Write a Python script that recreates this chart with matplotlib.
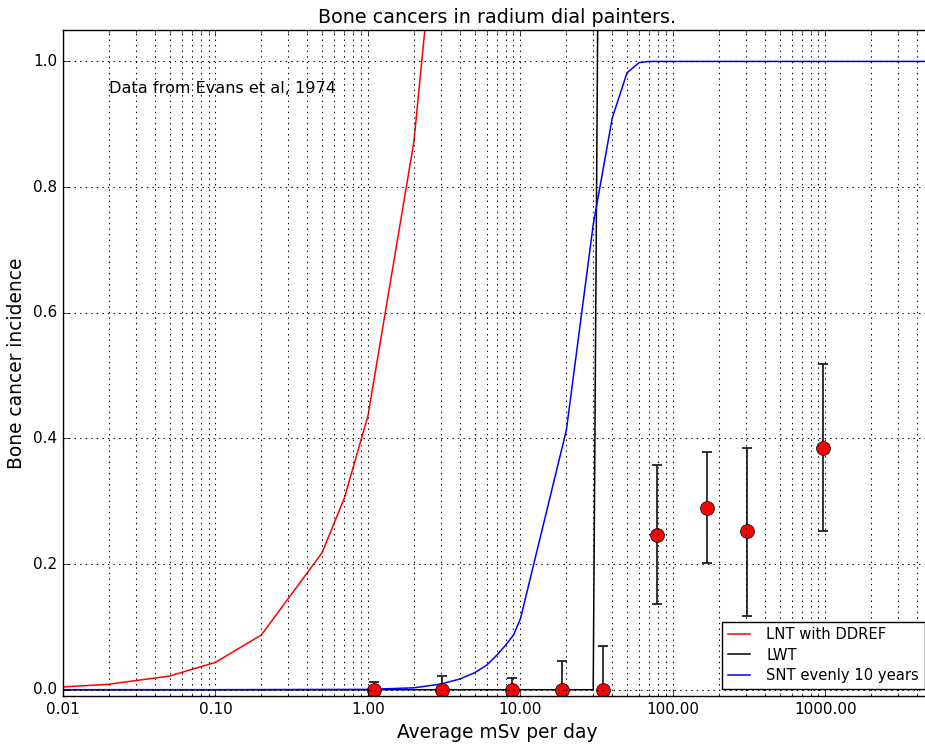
import matplotlib
matplotlib.use("Agg")
import matplotlib.pyplot as plt
from matplotlib.ticker import FormatStrFormatter, LogLocator

plt.style.use("classic")
plt.rcParams["figure.facecolor"] = "white"
plt.rcParams["savefig.facecolor"] = "white"
plt.rcParams["font.family"] = ["DejaVu Sans"]

# --- data ---
obs_dose = [1.09, 3.06, 8.75, 18.6, 34.9, 78.4, 167.0, 306.0, 960.0]
obs_incidence = [0.0, 0.0, 0.0, 0.0, 0.0, 0.246, 0.290, 0.252, 0.385]
obs_err_low = [0.0, 0.0, 0.0, 0.0, 0.0, 0.110, 0.088, 0.134, 0.133]
obs_err_high = [0.012, 0.022, 0.018, 0.046, 0.069, 0.111, 0.088, 0.133, 0.134]

lnt_dose = [0.01, 0.02, 0.05, 0.1, 0.2, 0.5, 0.7, 1.0, 2.0, 3.0, 5.0, 7.0, 10.0, 20.0]
lnt_incidence = [0.0044, 0.0087, 0.0218, 0.0436, 0.0872, 0.218, 0.305, 0.436, 0.872,
                 1.308, 2.18, 3.05, 4.36, 8.72]

lwt_dose = [0.01, 30.0, 40.0]
lwt_incidence = [0.0, 0.0, 4.5]

snt_dose = [0.01, 0.1, 1.0, 2.0, 3.0, 4.0, 5.0, 6.0, 7.0, 8.0, 9.0, 10.0, 20.0, 30.0,
            40.0, 50.0, 60.0, 70.0, 100.0, 1000.0, 5000.0]
snt_incidence = [0.0, 0.0, 0.0005, 0.003, 0.009, 0.017, 0.027, 0.039, 0.055, 0.071,
                 0.087, 0.113, 0.413, 0.74, 0.91, 0.982, 0.998, 1.0, 1.0, 1.0, 1.0]

x_ticks = [0.01, 0.1, 1, 10, 100, 1000]
y_ticks = [0.0, 0.2, 0.4, 0.6, 0.8, 1.0]

fig = plt.figure(figsize=(9.25, 7.45), dpi=100)
ax = fig.add_axes([63 / 925, 49 / 745, 869 / 925, 666 / 745])

ax.errorbar(obs_dose, obs_incidence, yerr=[obs_err_low, obs_err_high], fmt="o",
            mfc="red", mec="black", ms=10, ecolor="#222222", elinewidth=1.3,
            capsize=3.5, capthick=1.3)
ax.plot(lnt_dose, lnt_incidence, color="red", lw=1.1, label="LNT with DDREF")
ax.plot(lwt_dose, lwt_incidence, color="black", lw=1.1, label="LWT")
ax.plot(snt_dose, snt_incidence, color="blue", lw=1.1, label="SNT evenly 10 years")

ax.set_xscale("log")
ax.set_xlim(0.01, 5000)
ax.set_ylim(-0.01, 1.05)
ax.set_xticks(x_ticks)
ax.set_yticks(y_ticks)
ax.xaxis.set_major_formatter(FormatStrFormatter("%.2f"))
ax.yaxis.set_major_formatter(FormatStrFormatter("%.1f"))
ax.xaxis.set_minor_locator(LogLocator(base=10, subs=range(2, 10), numticks=20))
ax.xaxis.set_minor_formatter(plt.NullFormatter())
ax.tick_params(labelsize=11)

ax.grid(True, which="major", linestyle=":", color="k", linewidth=0.75)
ax.grid(True, which="minor", axis="x", linestyle=":", color="k", linewidth=0.75)

ax.text(0.02, 0.95, "Data from Evans et al, 1974", fontsize=11.6)
ax.set_title("Bone cancers in radium dial painters.", fontsize=13.8)
ax.set_xlabel("Average mSv per day", fontsize=13.4)
ax.set_ylabel("Bone cancer incidence", fontsize=13.4)

ax.legend(loc="lower right", fontsize=10.6, handlelength=1.5, handletextpad=1.1,
          labelspacing=0.35, numpoints=1, fancybox=False)

fig.savefig("out.png", dpi=100)
